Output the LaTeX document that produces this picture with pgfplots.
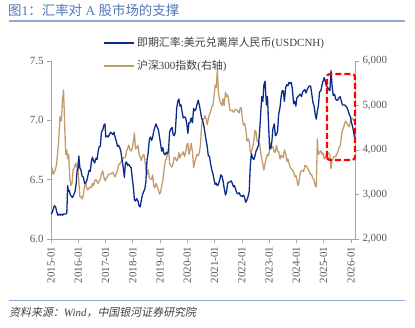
\documentclass[border=0pt]{standalone}
\usepackage{fontspec}
\setmainfont{Liberation Serif}
\newfontfamily\cjk{Noto Sans CJK SC}
\newfontfamily\cjkit[FakeSlant=0.2]{Noto Sans CJK SC}
\usepackage{pgfplots}
\pgfplotsset{compat=1.18}
\definecolor{fxblue}{RGB}{12,44,140}
\definecolor{hstan}{RGB}{194,156,110}
\definecolor{ttl}{RGB}{84,118,181}
\definecolor{ttlline}{RGB}{143,168,212}
\definecolor{axgray}{RGB}{166,166,166}
\definecolor{lblgray}{RGB}{89,89,89}
\definecolor{txtgray}{RGB}{64,64,64}

\pgfplotstableread{
x y
2015.00 6.21
2015.04 6.22
2015.08 6.25
2015.12 6.28
2015.17 6.27
2015.21 6.23
2015.25 6.20
2015.29 6.21
2015.33 6.20
2015.38 6.21
2015.42 6.20
2015.46 6.21
2015.50 6.21
2015.54 6.21
2015.58 6.22
2015.61 6.45
2015.64 6.40
2015.67 6.41
2015.71 6.37
2015.75 6.36
2015.79 6.35
2015.83 6.37
2015.88 6.40
2015.92 6.46
2015.96 6.58
2016.00 6.60
2016.02 6.70
2016.06 6.60
2016.10 6.58
2016.14 6.53
2016.19 6.52
2016.23 6.47
2016.27 6.47
2016.31 6.49
2016.35 6.53
2016.40 6.58
2016.44 6.57
2016.48 6.65
2016.52 6.69
2016.56 6.66
2016.60 6.64
2016.65 6.68
2016.69 6.67
2016.73 6.74
2016.77 6.78
2016.81 6.78
2016.85 6.90
2016.90 6.92
2016.94 6.96
2016.98 6.97
2017.01 6.86
2017.05 6.87
2017.10 6.86
2017.14 6.88
2017.19 6.90
2017.23 6.89
2017.27 6.88
2017.31 6.90
2017.35 6.86
2017.40 6.82
2017.44 6.78
2017.48 6.79
2017.52 6.77
2017.56 6.74
2017.61 6.66
2017.65 6.60
2017.69 6.52
2017.73 6.64
2017.77 6.65
2017.81 6.62
2017.85 6.63
2017.90 6.61
2017.94 6.60
2017.98 6.51
2018.02 6.44
2018.06 6.33
2018.10 6.32
2018.14 6.34
2018.19 6.32
2018.23 6.28
2018.27 6.27
2018.31 6.32
2018.35 6.37
2018.40 6.40
2018.44 6.42
2018.48 6.48
2018.52 6.66
2018.56 6.72
2018.61 6.84
2018.65 6.86
2018.69 6.83
2018.73 6.86
2018.77 6.91
2018.81 6.94
2018.85 6.97
2018.90 6.94
2018.94 6.92
2018.98 6.86
2019.02 6.80
2019.06 6.74
2019.10 6.77
2019.14 6.72
2019.19 6.71
2019.23 6.73
2019.27 6.72
2019.31 6.74
2019.35 6.90
2019.40 6.93
2019.44 6.94
2019.48 6.88
2019.52 6.87
2019.56 6.90
2019.61 7.10
2019.65 7.16
2019.69 7.18
2019.73 7.12
2019.77 7.13
2019.81 7.07
2019.85 7.02
2019.90 7.03
2019.94 7.02
2019.98 6.97
2020.02 6.89
2020.06 6.98
2020.10 6.98
2020.14 7.02
2020.19 6.98
2020.23 7.10
2020.27 7.08
2020.31 7.09
2020.35 7.13
2020.40 7.17
2020.44 7.13
2020.48 7.08
2020.52 7.02
2020.56 7.00
2020.61 6.95
2020.65 6.89
2020.69 6.83
2020.73 6.78
2020.77 6.70
2020.81 6.70
2020.85 6.64
2020.90 6.58
2020.94 6.55
2020.98 6.50
2021.02 6.46
2021.06 6.47
2021.10 6.45
2021.14 6.46
2021.19 6.50
2021.23 6.54
2021.27 6.53
2021.31 6.49
2021.35 6.43
2021.40 6.37
2021.44 6.40
2021.48 6.47
2021.52 6.48
2021.56 6.48
2021.61 6.49
2021.65 6.47
2021.69 6.44
2021.73 6.45
2021.77 6.42
2021.81 6.39
2021.85 6.38
2021.90 6.39
2021.94 6.37
2021.98 6.36
2022.02 6.36
2022.06 6.37
2022.10 6.35
2022.14 6.31
2022.19 6.33
2022.23 6.36
2022.27 6.40
2022.31 6.62
2022.35 6.72
2022.40 6.68
2022.44 6.67
2022.48 6.70
2022.52 6.74
2022.56 6.76
2022.61 6.79
2022.65 6.90
2022.69 7.05
2022.73 7.20
2022.77 7.16
2022.81 7.30
2022.85 7.33
2022.90 7.13
2022.94 7.20
2022.98 6.96
2023.02 6.76
2023.06 6.76
2023.10 6.82
2023.14 6.93
2023.19 6.97
2023.23 6.87
2023.27 6.88
2023.31 6.91
2023.35 7.05
2023.40 7.11
2023.44 7.20
2023.48 7.25
2023.52 7.25
2023.56 7.16
2023.61 7.28
2023.65 7.30
2023.69 7.29
2023.73 7.32
2023.77 7.31
2023.81 7.32
2023.85 7.27
2023.90 7.14
2023.94 7.16
2023.98 7.12
2024.02 7.19
2024.06 7.20
2024.10 7.21
2024.14 7.22
2024.19 7.20
2024.23 7.24
2024.27 7.25
2024.31 7.26
2024.35 7.23
2024.40 7.26
2024.44 7.28
2024.48 7.29
2024.52 7.29
2024.56 7.23
2024.61 7.15
2024.65 7.12
2024.69 7.05
2024.73 7.01
2024.77 7.08
2024.81 7.13
2024.85 7.24
2024.90 7.25
2024.94 7.30
2024.98 7.33
2025.02 7.36
2025.06 7.33
2025.10 7.29
2025.14 7.28
2025.19 7.26
2025.23 7.25
2025.27 7.42
2025.31 7.29
2025.35 7.21
2025.40 7.22
2025.44 7.18
2025.48 7.17
2025.52 7.17
2025.56 7.19
2025.61 7.20
2025.65 7.16
2025.69 7.13
2025.73 7.13
2025.77 7.13
2025.81 7.12
2025.85 7.11
2025.90 7.08
2025.94 7.05
2025.98 7.03
2026.02 6.98
2026.06 6.95
2026.10 6.90
2026.13 6.86
}\fxdata

\pgfplotstableread{
x y
2015.00 3530
2015.04 3600
2015.08 3450
2015.12 3500
2015.17 3580
2015.21 3700
2015.25 3980
2015.29 4300
2015.33 4750
2015.38 4650
2015.42 5120
2015.46 5350
2015.50 4600
2015.54 3900
2015.58 4000
2015.61 3800
2015.65 3900
2015.69 3350
2015.73 3200
2015.77 3250
2015.81 3550
2015.85 3600
2015.90 3700
2015.94 3600
2015.98 3730
2016.02 3300
2016.06 2950
2016.10 2950
2016.14 2900
2016.19 3000
2016.23 3200
2016.27 3250
2016.31 3150
2016.35 3100
2016.40 3150
2016.44 3170
2016.48 3150
2016.52 3250
2016.56 3200
2016.60 3300
2016.65 3340
2016.69 3280
2016.73 3250
2016.77 3320
2016.81 3340
2016.85 3460
2016.90 3530
2016.94 3390
2016.98 3310
2017.02 3360
2017.06 3390
2017.10 3450
2017.14 3460
2017.19 3460
2017.23 3480
2017.27 3500
2017.31 3440
2017.35 3400
2017.40 3480
2017.44 3540
2017.48 3670
2017.52 3680
2017.56 3740
2017.61 3750
2017.65 3830
2017.69 3830
2017.73 3840
2017.77 3980
2017.81 4030
2017.85 4110
2017.90 4000
2017.94 3980
2017.98 4030
2018.02 4190
2018.06 4380
2018.10 4020
2018.14 4050
2018.19 4100
2018.23 3900
2018.27 3850
2018.31 3760
2018.35 3850
2018.40 3900
2018.44 3800
2018.48 3560
2018.52 3450
2018.56 3560
2018.61 3370
2018.65 3350
2018.69 3340
2018.73 3440
2018.77 3180
2018.81 3150
2018.85 3250
2018.90 3180
2018.94 3100
2018.98 3010
2019.02 3050
2019.06 3200
2019.10 3300
2019.14 3520
2019.19 3750
2019.23 3800
2019.27 3900
2019.31 4050
2019.35 3700
2019.40 3640
2019.44 3620
2019.48 3700
2019.52 3830
2019.56 3830
2019.61 3750
2019.65 3800
2019.69 3940
2019.73 3820
2019.77 3900
2019.81 3900
2019.85 3960
2019.90 3850
2019.94 3950
2019.98 4100
2020.02 4150
2020.06 3900
2020.10 4000
2020.14 4150
2020.19 3950
2020.23 3600
2020.27 3720
2020.31 3800
2020.35 3900
2020.40 3870
2020.44 3950
2020.48 4100
2020.52 4500
2020.56 4700
2020.61 4700
2020.65 4770
2020.69 4700
2020.73 4570
2020.77 4700
2020.81 4800
2020.85 4850
2020.90 4980
2020.94 5000
2020.98 5210
2021.02 5460
2021.06 5400
2021.10 5800
2021.14 5300
2021.19 5100
2021.23 5050
2021.27 5000
2021.31 5150
2021.35 5000
2021.40 5300
2021.44 5200
2021.48 5240
2021.52 5100
2021.56 4900
2021.61 4880
2021.65 4900
2021.69 4850
2021.73 4870
2021.77 4920
2021.81 4900
2021.85 4870
2021.90 4830
2021.94 4950
2021.98 4940
2022.02 4700
2022.06 4560
2022.10 4600
2022.14 4500
2022.19 4200
2022.23 4250
2022.27 4200
2022.31 3950
2022.35 3950
2022.40 4080
2022.44 4200
2022.48 4440
2022.52 4400
2022.56 4200
2022.61 4170
2022.65 4150
2022.69 3950
2022.73 3800
2022.77 3680
2022.81 3550
2022.85 3700
2022.90 3820
2022.94 3900
2022.98 3870
2023.02 4020
2023.06 4150
2023.10 4050
2023.14 4080
2023.19 3950
2023.23 3960
2023.27 4100
2023.31 3980
2023.35 3960
2023.40 3800
2023.44 3880
2023.48 3850
2023.52 3830
2023.56 4000
2023.61 3920
2023.65 3750
2023.69 3800
2023.73 3700
2023.77 3620
2023.81 3580
2023.85 3560
2023.90 3500
2023.94 3400
2023.98 3430
2024.02 3320
2024.06 3200
2024.10 3300
2024.14 3480
2024.19 3540
2024.23 3540
2024.27 3520
2024.31 3650
2024.35 3650
2024.40 3600
2024.44 3570
2024.48 3500
2024.52 3450
2024.56 3440
2024.61 3350
2024.65 3320
2024.69 3200
2024.73 3170
2024.75 3700
2024.77 4250
2024.79 4000
2024.81 3900
2024.85 3950
2024.90 3980
2024.94 3900
2024.98 3935
2025.02 3800
2025.06 3820
2025.10 3900
2025.14 3950
2025.19 3920
2025.23 3890
2025.27 3580
2025.31 3770
2025.35 3820
2025.40 3860
2025.44 3850
2025.48 3900
2025.52 3950
2025.56 4050
2025.61 4100
2025.65 4300
2025.69 4450
2025.73 4500
2025.77 4600
2025.81 4650
2025.85 4600
2025.90 4550
2025.94 4520
2025.98 4640
2026.02 4720
2026.06 4700
2026.10 4680
2026.13 4650
}\hsdata

\pgfplotsset{
  common/.style={
    at={(51bp,89bp)}, anchor=south west,
    scale only axis, width=304bp, height=178bp,
    xmin=2015, xmax=2026.15,
    axis line style={axgray, line width=0.8bp},
    tick style={axgray, line width=0.7bp},
    major tick length=4bp, tick align=outside,
    ticklabel style={font=\fontsize{11}{11}\selectfont, text=lblgray},
    legend style={draw=none, fill=none, inner sep=0pt, anchor=west,
      font=\fontsize{11}{11}\selectfont, text=txtgray,
      cells={anchor=west}},
    legend image code/.code={\draw[#1, line width=1.6bp] (0bp,0bp) -- (30bp,0bp);},
  }
}

\begin{document}
\begin{tikzpicture}
\useasboundingbox (0bp,0bp) rectangle (415bp,328bp);
\node[anchor=west, text=ttl, font=\fontsize{13.5}{13.5}\selectfont, inner sep=0] at (8bp,318bp)
  {{\cjk 图}1{\cjk ：汇率对} A {\cjk 股市场的支撑}};
\draw[ttlline, line width=1.6bp] (9bp,307bp) -- (405bp,307bp);
\draw[ttlline, line width=1.6bp] (9bp,27.5bp) -- (405bp,27.5bp);
\node[anchor=west, text=txtgray, font=\fontsize{11}{11}\selectfont, inner sep=0] at (9bp,16bp)
  {{\cjkit 资料来源：}\textit{Wind}{\cjkit ，中国银河证券研究院}};

\begin{axis}[common,
  ymin=2000, ymax=6000,
  axis x line=none, axis y line*=right,
  ytick={2000,3000,4000,5000,6000},
  yticklabels={{2,000},{3,000},{4,000},{5,000},{6,000}},
  legend style={at={(0.172,0.972)}},
]
\addplot[hstan, line width=1.3bp, line join=round] table[x=x,y=y] {\hsdata};
\addlegendentry{{\cjk 沪深}300{\cjk 指数}({\cjk 右轴})}
\end{axis}

\begin{axis}[common,
  ymin=6.0, ymax=7.5,
  axis x line*=bottom, axis y line*=left,
  ytick={6.0,6.5,7.0,7.5},
  yticklabels={6.0,6.5,7.0,7.5},
  xtick={2015,2016,...,2026},
  xticklabels={2015-01,2016-01,2017-01,2018-01,2019-01,2020-01,2021-01,2022-01,2023-01,2024-01,2025-01,2026-01},
  xticklabel style={rotate=90, anchor=east},
  legend style={at={(0.172,1.101)}},
]
\addplot[fxblue, line width=1.3bp, line join=round] table[x=x,y=y] {\fxdata};
\addlegendentry{{\cjk 即期汇率}:{\cjk 美元兑离岸人民币}(USDCNH)}
\end{axis}

\draw[red, line width=2.2bp, dash pattern=on 6bp off 3bp, rounded corners=3bp]
  (327bp,168bp) rectangle (355bp,254bp);
\end{tikzpicture}
\end{document}
